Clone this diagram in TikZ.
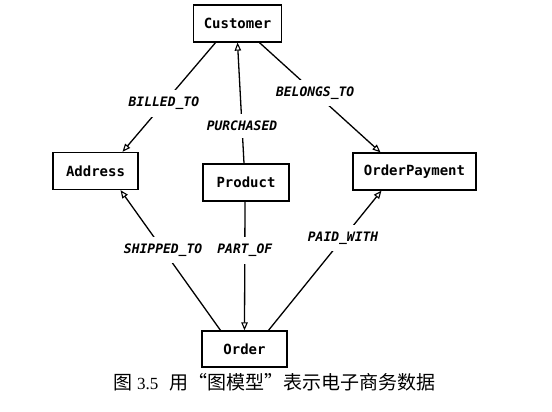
\documentclass[tikz,border=0pt]{standalone}
\usepackage{fontspec}
\setmainfont{Liberation Serif}
\newfontfamily\monofont{DejaVu Sans Mono}
\newfontfamily\cjk{Noto Sans CJK SC}
\usetikzlibrary{arrows.meta}
\begin{document}
\begin{tikzpicture}[x=1pt,y=-1pt,
  ent/.style={draw, line width=1.3pt, minimum height=37pt, minimum width=85pt,
    inner xsep=10pt, font=\monofont\fontsize{14}{14}\selectfont\bfseries},
  rel/.style={line width=1.3pt, -{Triangle[open,length=8pt,width=6.5pt,line width=1.1pt]}},
  lbl/.style={fill=white, inner xsep=2pt, inner ysep=7pt,
    font=\monofont\fontsize{13}{13}\selectfont\bfseries\itshape}]
\useasboundingbox (0,0) rectangle (552,412);
\node[ent, minimum width=83pt] (cust) at (237.5,23.5) {Customer};
\node[ent] (addr) at (95.5,171) {Address};
\node[ent, minimum width=86pt] (prod) at (246,182.5) {Product};
\node[ent, minimum width=123pt] (pay) at (414.5,171.5) {OrderPayment};
\node[ent, minimum height=36pt] (ord) at (244.5,349) {Order};
\draw[rel] ([xshift=-22pt]cust.south) -- node[lbl, pos=0.555] (l1) {BILLED\_TO} ([xshift=27pt]addr.north);
\draw[rel] ([xshift=-2pt]prod.north) -- node[lbl, pos=0.31] (l2) {PURCHASED} (cust.south);
\draw[rel] ([xshift=22pt]cust.south) -- node[lbl, pos=0.46] (l3) {BELONGS\_TO} ([xshift=-34pt]pay.north);
\draw[rel] ([xshift=-24pt]ord.north) -- node[lbl, pos=0.574] (l4) {SHIPPED\_TO} ([xshift=25pt]addr.south);
\draw[rel] ([xshift=-1pt]prod.south) -- node[lbl, pos=0.377] (l5) {PART\_OF} (ord.north);
\draw[rel] ([xshift=24pt]ord.north) -- node[lbl, pos=0.66] (l6) {PAID\_WITH} ([xshift=-33pt]pay.south);
\node[anchor=west, inner sep=0pt, font=\fontsize{17}{17}\selectfont] (cap) at (113,382)
  {{\cjk\fontsize{19}{19}\selectfont 图}\hspace{5pt}3.5\hspace{11pt}{\cjk\fontsize{19}{19}\selectfont 用“图模型”表示电子商务数据}};
\end{tikzpicture}
\end{document}
